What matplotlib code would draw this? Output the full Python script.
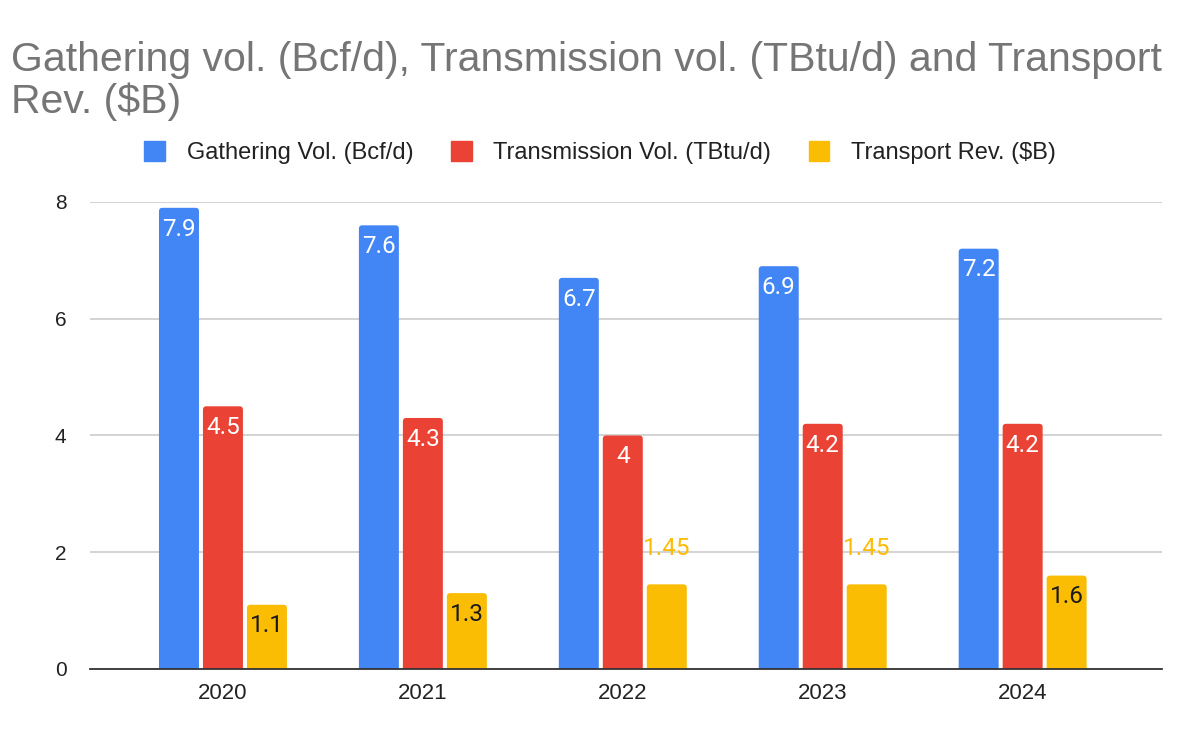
import matplotlib
matplotlib.use('Agg')
import matplotlib.pyplot as plt
from matplotlib.patches import Patch, FancyBboxPatch
import numpy as np

years = ['2020', '2021', '2022', '2023', '2024']
gathering = [7.9, 7.6, 6.7, 6.9, 7.2]
transmission = [4.5, 4.3, 4.0, 4.2, 4.2]
transport = [1.1, 1.3, 1.45, 1.45, 1.6]
transport_labels = ['1.1', '1.3', '1.45', '1.45', '1.6']

series_names = ['Gathering Vol. (Bcf/d)', 'Transmission Vol. (TBtu/d)', 'Transport Rev. ($B)']
colors = ['#4285F4', '#EA4335', '#FBBC04']

plt.rcParams['font.family'] = ['Liberation Sans', 'DejaVu Sans']
label_font = ['Roboto', 'DejaVu Sans']

fig = plt.figure(figsize=(12, 7.42), dpi=100)
ax = fig.add_axes([0.075, 0.0984, 0.893, 0.6294])

x = np.arange(len(years))
w = 0.2
step = 0.22

ax.set_xlim(-0.665, 4.695)
ax.set_ylim(0, 8)

# соотношение масштабов осей для скругления углов
aspect = (1072 / 5.36) / (467 / 8)


def rounded_bars(xs, vals, color):
    bars = ax.bar(xs, vals, w, color=color, zorder=3)
    for b in bars:
        b.set_visible(False)
        p = FancyBboxPatch((b.get_x(), -0.1), b.get_width(), b.get_height() + 0.1,
                           boxstyle='round,pad=0,rounding_size=0.017',
                           mutation_aspect=aspect, facecolor=color, edgecolor='none',
                           zorder=3)
        ax.add_patch(p)
    return bars


b1 = rounded_bars(x - step, gathering, colors[0])
b2 = rounded_bars(x, transmission, colors[1])
b3 = rounded_bars(x + step, transport, colors[2])

# подписи значений
for bars, vals in [(b1, gathering), (b2, transmission)]:
    for b, v in zip(bars, vals):
        ax.annotate(f'{v:g}', (b.get_x() + b.get_width() / 2, v), xytext=(0, -7),
                    textcoords='offset points', ha='center', va='top',
                    color='white', fontsize=17.5, family=label_font, zorder=4)
for b, v, lab in zip(b3, transport, transport_labels):
    if lab == '1.45':
        ax.annotate(lab, (b.get_x() + b.get_width() / 2, 2.07), ha='center', va='center',
                    color=colors[2], fontsize=17.5, family=label_font, zorder=4)
    else:
        ax.annotate(lab, (b.get_x() + b.get_width() / 2, v), xytext=(0, -7),
                    textcoords='offset points', ha='center', va='top',
                    color='#1a1a1a', fontsize=17.5, family=label_font, zorder=4)

ax.set_yticks([0, 2, 4, 6, 8])
ax.set_xticks(x)
ax.set_xticklabels(years)
ax.tick_params(axis='both', length=0, colors='#222222')
ax.tick_params(axis='y', pad=17, labelsize=15)
ax.tick_params(axis='x', pad=10, labelsize=16)
ax.grid(axis='y', color='#cccccc', linewidth=1.2, zorder=0)
for s in ['top', 'right', 'left']:
    ax.spines[s].set_visible(False)
ax.spines['bottom'].set_color('#333333')
ax.spines['bottom'].set_linewidth(1.3)
ax.spines['bottom'].set_zorder(5)

handles = [Patch(facecolor=c, edgecolor=c) for c in colors]
fig.legend(handles, series_names, loc='center', bbox_to_anchor=(0.5, 0.794), ncol=3,
           frameon=False, fontsize=17, handlelength=0.88, handleheight=0.88,
           handletextpad=0.9, columnspacing=1.6, labelcolor='#222222')

fig.text(0.009, 0.945, 'Gathering vol. (Bcf/d), Transmission vol. (TBtu/d) and Transport\nRev. ($B)',
         ha='left', va='top', fontsize=29.5, color='#757575', linespacing=1.12)

plt.savefig('out.png', dpi=100)
plt.close()
